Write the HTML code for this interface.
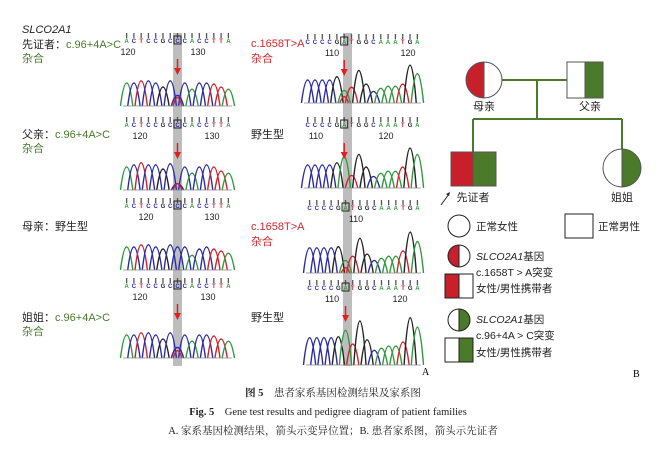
<!DOCTYPE html>
<html><head><meta charset="utf-8"><style>
body{margin:0;background:#fff;}
svg{display:block;font-family:"Liberation Sans","Noto Sans CJK SC",sans-serif;}
.s{font-family:"Liberation Serif","Noto Serif CJK SC",serif;}
</style></head><body>
<svg id="g" width="666" height="458" viewBox="0 0 666 458" xmlns="http://www.w3.org/2000/svg">
<rect x="173" y="33" width="9" height="333" fill="#bdbdbd"/>
<rect x="343" y="33" width="9" height="333" fill="#bdbdbd"/>
<g font-size="11">
<text x="22" y="33" font-style="italic" fill="#222">SLCO2A1</text>
<text x="22" y="48" fill="#222">先证者：<tspan fill="#4a7a2a">c.96+4A&gt;C</tspan></text>
<text x="22" y="62" fill="#4a7a2a">杂合</text>
<text x="22" y="138" fill="#222">父亲：<tspan fill="#4a7a2a">c.96+4A&gt;C</tspan></text>
<text x="22" y="152" fill="#4a7a2a">杂合</text>
<text x="22" y="230" fill="#222">母亲：野生型</text>
<text x="22" y="321" fill="#222">姐姐：<tspan fill="#4a7a2a">c.96+4A&gt;C</tspan></text>
<text x="22" y="335" fill="#4a7a2a">杂合</text>
<text x="251" y="47" fill="#d0282e">c.1658T&gt;A</text>
<text x="251" y="62" fill="#d0282e">杂合</text>
<text x="251" y="138" fill="#222">野生型</text>
<text x="251" y="230" fill="#d0282e">c.1658T&gt;A</text>
<text x="251" y="245" fill="#d0282e">杂合</text>
<text x="251" y="321" fill="#222">野生型</text>
</g>
<g id="chr"></g>
<g stroke="#4a7a2a" stroke-width="2" fill="none">
<path d="M502 80H567M537 80V119M473 119H622M473 119V152M622 119V149"/>
</g>
<path d="M484 62A18 18 0 0 0 484 98Z" fill="#c8202a"/>
<circle cx="484" cy="80" r="18" fill="none" stroke="#555" stroke-width="1"/>
<line x1="484" y1="62" x2="484" y2="98" stroke="#555"/>
<rect x="567" y="62" width="18" height="36" fill="#fff" stroke="#555"/>
<rect x="585" y="62" width="18" height="36" fill="#4a7a2a" stroke="#555"/>
<rect x="451" y="152" width="22" height="34" fill="#c8202a" stroke="#555"/>
<rect x="473" y="152" width="23" height="34" fill="#4a7a2a" stroke="#555"/>
<path d="M622 149A19 19 0 0 1 622 187Z" fill="#4a7a2a"/>
<circle cx="622" cy="168" r="19" fill="none" stroke="#555"/>
<line x1="622" y1="149" x2="622" y2="187" stroke="#555"/>
<g font-size="11" fill="#222">
<text x="484" y="110" text-anchor="middle">母亲</text>
<text x="590" y="110" text-anchor="middle">父亲</text>
<text x="473" y="201" text-anchor="middle">先证者</text>
<text x="622" y="201" text-anchor="middle">姐姐</text>
</g>
<line x1="441" y1="205" x2="449" y2="194" stroke="#222"/>
<path d="M450 192l-4 2 3 2z" fill="#222"/>
<circle cx="459" cy="226" r="11" fill="#fff" stroke="#222"/>
<rect x="565" y="214" width="28" height="24" fill="#fff" stroke="#222"/>
<path d="M459 245A11 11 0 0 0 459 267Z" fill="#c8202a"/>
<circle cx="459" cy="256" r="11" fill="none" stroke="#222"/>
<line x1="459" y1="245" x2="459" y2="267" stroke="#222"/>
<rect x="445" y="274" width="14" height="24" fill="#c8202a" stroke="#222"/>
<rect x="459" y="274" width="14" height="24" fill="#fff" stroke="#222"/>
<path d="M459 309A11 11 0 0 1 459 331Z" fill="#4a7a2a"/>
<circle cx="459" cy="320" r="11" fill="none" stroke="#222"/>
<line x1="459" y1="309" x2="459" y2="331" stroke="#222"/>
<rect x="445" y="338" width="14" height="24" fill="#fff" stroke="#222"/>
<rect x="459" y="338" width="14" height="24" fill="#4a7a2a" stroke="#222"/>
<g font-size="10.5" fill="#222">
<text x="476" y="230">正常女性</text>
<text x="598" y="230">正常男性</text>
<text x="476" y="260"><tspan font-style="italic">SLCO2A1</tspan>基因</text>
<text x="476" y="276">c.1658T &gt; A突变</text>
<text x="476" y="292">女性/男性携带者</text>
<text x="476" y="323"><tspan font-style="italic">SLCO2A1</tspan>基因</text>
<text x="476" y="339">c.96+4A &gt; C突变</text>
<text x="476" y="356">女性/男性携带者</text>
</g>
<text class="s" x="422" y="375" font-size="10">A</text>
<text class="s" x="633" y="377" font-size="10">B</text>
<g class="s" font-size="10.5" fill="#222" text-anchor="middle">
<text x="333" y="396" font-weight="bold">图 5　<tspan font-weight="normal">患者家系基因检测结果及家系图</tspan></text>
<text x="328" y="415"><tspan font-weight="bold">Fig. 5</tspan>　Gene test results and pedigree diagram of patient families</text>
<text x="333" y="434">A. 家系基因检测结果，箭头示变异位置；B. 患者家系图，箭头示先证者</text>
</g>
</svg>
<script>
var C={A:'#2e9a3e',C:'#2a2aa8',G:'#222',T:'#d0202a'};
var g=document.getElementById('chr'),h='';
function chrom(x0,x1,letY,base,seq,hts,mark,extra,num,arrow){
 var n=seq.length,w=(x1-x0)/n;
 for(var i=0;i<n;i++){var cx=x0+w*(i+.5),c=C[seq[i]];
  h+='<line x1="'+cx+'" y1="'+(letY-10)+'" x2="'+cx+'" y2="'+(letY-5)+'" stroke="#555" stroke-width="1.3"/>';
  h+='<text x="'+cx+'" y="'+letY+'" font-size="6" font-weight="bold" text-anchor="middle" fill="'+c+'">'+seq[i]+'</text>';
  if(i==mark)h+='<rect x="'+(cx-3.5)+'" y="'+(letY-7)+'" width="7" height="8" fill="none" stroke="#222"/>';
  var ht=hts[i];
  h+='<path d="M'+(cx-w*.85)+' '+base+'C'+(cx-w*.3)+' '+(base-ht*1.4)+' '+(cx+w*.3)+' '+(base-ht*1.4)+' '+(cx+w*.85)+' '+base+'" fill="none" stroke="'+c+'" stroke-width="1.4"/>';
 }
 if(extra){var cx=x0+w*(mark+.5);h+='<path d="M'+(cx-w*.6)+' '+base+'C'+(cx-w*.2)+' '+(base-extra[1]*1.4)+' '+(cx+w*.2)+' '+(base-extra[1]*1.4)+' '+(cx+w*.6)+' '+base+'" fill="none" stroke="'+extra[0]+'" stroke-width="1.4"/>';}
 h+='<line x1="'+x0+'" y1="'+base+'" x2="'+x1+'" y2="'+base+'" stroke="#888" stroke-width=".8"/>';
 for(var k=0;k<num.length;k++)h+='<text x="'+num[k][0]+'" y="'+(letY+12)+'" font-size="9" text-anchor="middle" fill="#222">'+num[k][1]+'</text>';
 if(arrow){var ax=x0+w*(mark+.5);h+='<line x1="'+ax+'" y1="'+(letY+16)+'" x2="'+ax+'" y2="'+(letY+28)+'" stroke="#e02020" stroke-width="1.5"/><path d="M'+(ax-3.5)+' '+(letY+25)+'L'+(ax+3.5)+' '+(letY+25)+'L'+ax+' '+(letY+32)+'Z" fill="#e02020"/>';}
}
var L='ACTCCGCCCACCTTA',LH=[22,22,24,24,22,18,24,10,22,16,22,22,21,18,16];
var LH2=[22,24,26,24,24,20,25,6,22,16,22,24,22,18,16];
chrom(123,232,43,106,L,LH,7,['#d0202a',8],[[128,'120'],[198,'130']],1);
chrom(123,232,127,190,L,LH2,7,['#d0202a',6],[[140,'120'],[212,'130']],1);
chrom(123,232,208,270,L,[22,22,24,24,22,20,24,22,22,14,20,22,20,18,16],7,null,[[146,'120'],[212,'130']],0);
chrom(123,232,288,358,L,LH,7,['#d0202a',7],[[140,'120'],[208,'130']],1);
var R='CCCCGATGGCAAATGA';
chrom(304,421,44,103,R,[22,22,22,22,25,12,15,31,18,11,14,16,16,18,36,28],5,['#d0202a',6],[[332,'110'],[408,'120']],1);
chrom(304,421,127,188,R,[22,22,22,22,24,30,12,32,20,11,14,16,16,20,38,32],5,null,[[316,'110'],[386,'120']],1);
chrom(306,421,210,273,R,[24,24,24,24,25,12,16,33,18,12,14,16,16,21,39,30],5,['#d0202a',5],[[356,'110']],0);
chrom(306,421,290,365,R,[26,26,26,26,27,33,20,42,24,14,16,18,18,22,45,36],5,null,[[332,'110'],[400,'120']],1);
g.innerHTML=h;
</script>
</body></html>
